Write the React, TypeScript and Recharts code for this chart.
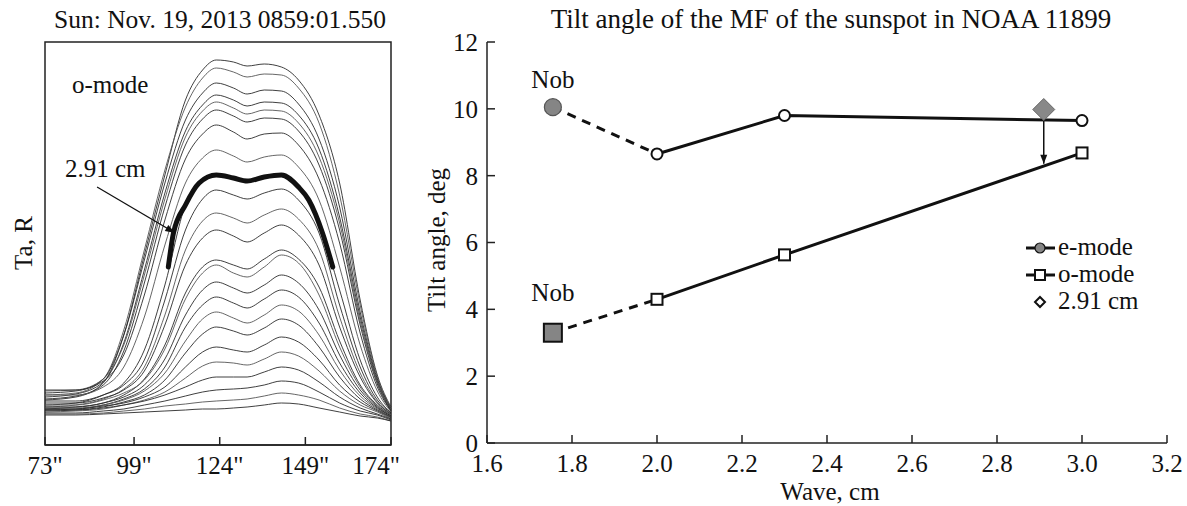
import React from "react";
import {
  LineChart,
  ComposedChart,
  Line,
  Scatter,
  XAxis,
  YAxis,
  ReferenceArea,
} from "recharts";

const FONT = '"Liberation Serif", "Times New Roman", serif';
const INK = "#111";

// ---- left panel: Ta scans (o-mode), arbitrary units ----
const arcsec = [73, 82, 90, 96, 102, 108, 114, 119, 123, 128, 132, 137, 142, 147, 153, 159, 165, 170, 174];
const arcsecTicks = [73, 99, 124, 149, 174];

const prof01 = [45, 48, 62, 110, 190, 270, 345, 375, 385, 383, 379, 381, 378, 365, 330, 262, 145, 70, 38];
const prof02 = [50, 52, 66, 115, 195, 275, 338, 367, 377, 373, 368, 371, 370, 357, 322, 250, 140, 68, 37];
const prof03 = [52, 54, 66, 110, 185, 262, 325, 352, 362, 357, 351, 355, 354, 341, 306, 238, 133, 66, 36];
const prof04 = [48, 51, 63, 102, 175, 252, 314, 340, 350, 345, 339, 343, 342, 330, 296, 228, 128, 64, 35];
const prof05 = [54, 55, 66, 100, 170, 246, 308, 334, 343, 337, 331, 335, 334, 322, 288, 222, 124, 63, 35];
const prof06 = [46, 49, 60, 94, 162, 238, 300, 326, 335, 329, 323, 327, 326, 314, 280, 215, 120, 61, 34];
const prof07 = [55, 55, 64, 90, 150, 225, 286, 311, 320, 313, 306, 311, 312, 300, 266, 202, 112, 58, 34];
const prof08 = [50, 50, 58, 78, 128, 200, 262, 287, 295, 289, 283, 288, 290, 278, 245, 178, 100, 54, 33];
const prof09 = [40, 42, 50, 62, 95, 160, 240, 264, 270, 267, 264, 268, 270, 258, 222, 155, 85, 48, 32];
const prof10 = [44, 44, 50, 60, 85, 145, 215, 246, 255, 250, 246, 252, 256, 245, 212, 140, 78, 45, 32];
const prof11 = [38, 40, 46, 56, 78, 130, 195, 224, 232, 227, 222, 230, 236, 226, 195, 128, 72, 43, 31];
const prof12 = [42, 42, 47, 55, 74, 120, 180, 207, 215, 209, 203, 212, 220, 210, 180, 118, 68, 42, 31];
const prof13 = [36, 38, 42, 50, 66, 100, 152, 178, 185, 180, 176, 186, 195, 186, 158, 104, 60, 40, 30];
const prof14 = [40, 40, 45, 52, 65, 96, 146, 172, 180, 172, 168, 178, 190, 182, 150, 98, 58, 39, 30];
const prof15 = [38, 38, 42, 48, 60, 86, 130, 155, 163, 157, 152, 160, 170, 162, 135, 90, 55, 38, 29];
const prof16 = [35, 36, 40, 46, 56, 78, 118, 140, 148, 142, 137, 146, 155, 148, 122, 82, 52, 37, 29];
const prof17 = [37, 37, 40, 45, 54, 72, 104, 126, 133, 127, 122, 130, 140, 134, 110, 75, 49, 36, 28];
const prof18 = [34, 35, 38, 43, 50, 65, 92, 111, 118, 114, 110, 117, 126, 120, 98, 68, 46, 35, 28];
const prof19 = [36, 36, 39, 42, 48, 58, 78, 93, 98, 95, 93, 100, 108, 103, 85, 60, 43, 34, 27];
const prof20 = [33, 34, 36, 40, 45, 53, 67, 79, 83, 82, 80, 86, 93, 89, 74, 54, 40, 33, 26];
const prof21 = [35, 35, 37, 40, 44, 50, 58, 65, 68, 68, 68, 73, 78, 75, 63, 48, 37, 31, 26];
const prof22 = [32, 32, 34, 36, 40, 44, 49, 53, 55, 56, 57, 60, 64, 62, 53, 42, 34, 30, 25];
const prof23 = [31, 31, 32, 34, 36, 39, 41, 43, 44, 45, 46, 49, 52, 50, 45, 37, 31, 28, 24];
const prof24 = [30, 30, 31, 32, 33, 34, 35, 36, 36, 37, 38, 40, 42, 41, 37, 33, 29, 27, 24];

const profiles = [
  prof01, prof02, prof03, prof04, prof05, prof06, prof07, prof08,
  prof09, prof10, prof11, prof12, prof13, prof14, prof15, prof16,
  prof17, prof18, prof19, prof20, prof21, prof22, prof23, prof24,
];

// highlighted 2.91 cm scan (only the part drawn thick)
const thickArcsec = [109, 110.5, 114, 118, 123, 128, 132, 137, 142, 147, 150, 154, 157];
const thickTa = [178, 212, 240, 262, 270, 267, 264, 268, 270, 258, 245, 212, 178];

// pointer from the "2.91 cm" label
const pointerArcsec = [88.2, 111];
const pointerTa = [258, 212];

// ---- right panel: tilt angle ----
const waveCm = [1.755, 2.0, 2.3, 3.0];
const eModeTilt = [10.05, 8.65, 9.8, 9.65];
const oModeTilt = [3.3, 4.3, 5.63, 8.68];
const wave291 = [2.91];
const tilt291 = [9.98];
const arrowWave = [2.91, 2.91];
const arrowTilt = [9.68, 8.36];
const waveTicks = [1.6, 1.8, 2.0, 2.2, 2.4, 2.6, 2.8, 3.0, 3.2];
const tiltTicks = [0, 2, 4, 6, 8, 10, 12];

const scanRows = arcsec.map((a, i) => {
  const row: Record<string, number> = { a };
  profiles.forEach((p, k) => (row["p" + k] = p[i]));
  return row;
});
const thickRows = thickArcsec.map((a, i) => ({ a, v: thickTa[i] }));
const pointerRows = pointerArcsec.map((a, i) => ({ a, v: pointerTa[i] }));

const pts = (xs: number[], ys: number[]) => xs.map((x, i) => ({ x, y: ys[i] }));
const ePts = pts(waveCm, eModeTilt);
const oPts = pts(waveCm, oModeTilt);
const eNob = ePts.slice(0, 2);
const eSolid = ePts.slice(1);
const oNob = oPts.slice(0, 2);
const oSolid = oPts.slice(1);
const diamondPts = pts(wave291, tilt291);
const arrowPts = pts(arrowWave, arrowTilt);

const tickStyle = { fill: INK, fontSize: 25, fontFamily: FONT };

const nobCircle = (props: any) => {
  const { cx, cy, index } = props;
  if (index !== 0) return <g key={"en" + index} />;
  return (
    <g key={"en" + index}>
      <circle cx={cx} cy={cy} r={8.5} fill="#858585" stroke="#555" strokeWidth={1.2} />
      <text x={cx} y={cy - 19} textAnchor="middle" fontSize={25} fontFamily={FONT} fill={INK}>
        Nob
      </text>
    </g>
  );
};

const nobSquare = (props: any) => {
  const { cx, cy, index } = props;
  if (index !== 0) return <g key={"on" + index} />;
  return (
    <g key={"on" + index}>
      <rect x={cx - 9} y={cy - 9} width={18} height={18} fill="#858585" stroke="#111" strokeWidth={2} />
      <text x={cx} y={cy - 32} textAnchor="middle" fontSize={25} fontFamily={FONT} fill={INK}>
        Nob
      </text>
    </g>
  );
};

const openSquare = (props: any) => {
  const { cx, cy, index } = props;
  return (
    <rect key={"os" + index} x={cx - 5.5} y={cy - 5.5} width={11} height={11} fill="#fff" stroke="#111" strokeWidth={2} />
  );
};

const arrowDown = (props: any) => {
  const { cx, cy, index } = props;
  if (index !== 1) return <g key={"ad" + index} />;
  return <path key={"ad" + index} d={`M${cx - 3.5},${cy - 9} L${cx + 3.5},${cy - 9} L${cx},${cy} Z`} fill="#111" />;
};

const pointerHead = (props: any) => {
  const { cx, cy, index } = props;
  if (index !== 1) return <g key={"ph" + index} />;
  return (
    <path
      key={"ph" + index}
      d="M0,0 L-10,-3.5 L-10,3.5 Z"
      fill="#111"
      transform={`translate(${cx},${cy}) rotate(30.5)`}
    />
  );
};

const diamond = (props: any) => {
  const { cx, cy } = props;
  return (
    <path
      d={`M${cx},${cy - 11} L${cx + 11},${cy} L${cx},${cy + 11} L${cx - 11},${cy} Z`}
      fill="#888"
      stroke="#666"
      strokeWidth={1}
    />
  );
};

function ScanPanel() {
  return (
    <LineChart
      width={400}
      height={506}
      data={scanRows}
      margin={{ top: 42, right: 9, left: 45, bottom: 0 }}
    >
      <XAxis
        dataKey="a"
        type="number"
        domain={[73, 174]}
        ticks={arcsecTicks}
        tickFormatter={(v) => `${v}"`}
        height={61}
        tickSize={-8}
        tickMargin={19}
        tick={tickStyle}
        axisLine={{ stroke: "#222", strokeWidth: 1.5 }}
        tickLine={{ stroke: "#222", strokeWidth: 1.5 }}
      />
      <YAxis hide domain={[0, 403]} />
      <ReferenceArea x1={73} x2={174} y1={0} y2={403} stroke="#222" strokeWidth={1.5} fill="none" fillOpacity={0} />
      {profiles.map((_, k) => (
        <Line
          key={k}
          type="monotone"
          dataKey={"p" + k}
          stroke={k % 3 === 1 ? "#555" : "#2a2a2a"}
          strokeWidth={0.9}
          dot={false}
          activeDot={false}
          isAnimationActive={false}
        />
      ))}
      <Line
        data={thickRows}
        type="monotone"
        dataKey="v"
        stroke="#111"
        strokeWidth={5}
        strokeLinecap="round"
        dot={false}
        activeDot={false}
        isAnimationActive={false}
      />
      <Line
        data={pointerRows}
        type="linear"
        dataKey="v"
        stroke="#111"
        strokeWidth={1.3}
        dot={pointerHead}
        activeDot={false}
        isAnimationActive={false}
      />
    </LineChart>
  );
}

function TiltPanel() {
  return (
    <ComposedChart width={787} height={506} margin={{ top: 42, right: 20, left: 0, bottom: 0 }}>
      <XAxis
        dataKey="x"
        type="number"
        domain={[1.6, 3.2]}
        ticks={waveTicks}
        tickFormatter={(v) => v.toFixed(1)}
        height={63}
        tickSize={-8}
        tickMargin={19}
        tick={tickStyle}
        axisLine={{ stroke: "#222", strokeWidth: 1.5 }}
        tickLine={{ stroke: "#222", strokeWidth: 1.5 }}
        allowDuplicatedCategory={false}
      />
      <YAxis
        type="number"
        domain={[0, 12]}
        ticks={tiltTicks}
        width={87}
        tickSize={-8}
        tickMargin={17}
        tick={tickStyle}
        axisLine={{ stroke: "#222", strokeWidth: 1.5 }}
        tickLine={{ stroke: "#222", strokeWidth: 1.5 }}
      />
      <Line
        data={arrowPts}
        dataKey="y"
        type="linear"
        stroke="#111"
        strokeWidth={1.5}
        dot={arrowDown}
        activeDot={false}
        isAnimationActive={false}
      />
      <Line
        data={eNob}
        dataKey="y"
        type="linear"
        stroke="#111"
        strokeWidth={3}
        strokeDasharray="9 7"
        dot={nobCircle}
        activeDot={false}
        isAnimationActive={false}
      />
      <Line
        data={oNob}
        dataKey="y"
        type="linear"
        stroke="#111"
        strokeWidth={3}
        strokeDasharray="9 7"
        dot={nobSquare}
        activeDot={false}
        isAnimationActive={false}
      />
      <Line
        data={eSolid}
        dataKey="y"
        name="e-mode"
        type="linear"
        stroke="#111"
        strokeWidth={3}
        dot={{ r: 5.5, fill: "#fff", stroke: "#111", strokeWidth: 2 }}
        activeDot={false}
        isAnimationActive={false}
      />
      <Line
        data={oSolid}
        dataKey="y"
        name="o-mode"
        type="linear"
        stroke="#111"
        strokeWidth={3}
        dot={openSquare}
        activeDot={false}
        isAnimationActive={false}
      />
      <Scatter data={diamondPts} dataKey="y" name="2.91 cm" shape={diamond} isAnimationActive={false} />
    </ComposedChart>
  );
}

function Overlay() {
  const t = { fontFamily: FONT, fontSize: 25, fill: INK };
  return (
    <svg
      width={1187}
      height={506}
      style={{ position: "absolute", left: 0, top: 0, pointerEvents: "none" }}
    >
      <text x={220} y={28} textAnchor="middle" {...t} fontSize={25.5}>
        Sun: Nov. 19, 2013 0859:01.550
      </text>
      <text x={831} y={28} textAnchor="middle" {...t} fontSize={27}>
        Tilt angle of the MF of the sunspot in NOAA 11899
      </text>
      <text x={32} y={243} textAnchor="middle" transform="rotate(-90 32 243)" {...t}>
        Ta, R
      </text>
      <text x={445} y={240} textAnchor="middle" transform="rotate(-90 445 240)" {...t}>
        Tilt angle, deg
      </text>
      <text x={830} y={500} textAnchor="middle" {...t}>
        Wave, cm
      </text>
      <text x={72} y={93} {...t}>
        o-mode
      </text>
      <text x={65} y={177} {...t}>
        2.91 cm
      </text>

      {/* legend */}
      <line x1={1026} x2={1055} y1={248} y2={248} stroke="#111" strokeWidth={3} />
      <circle cx={1040} cy={248} r={5} fill="#858585" stroke="#111" strokeWidth={1.2} />
      <text x={1058} y={255} {...t}>e-mode</text>
      <line x1={1026} x2={1055} y1={275} y2={275} stroke="#111" strokeWidth={3} />
      <rect x={1035} y={270} width={10} height={10} fill="#fff" stroke="#111" strokeWidth={2} />
      <text x={1058} y={282} {...t}>o-mode</text>
      <path d="M1040,297 L1045,302 L1040,307 L1035,302 Z" fill="#fff" stroke="#111" strokeWidth={2} />
      <text x={1058} y={309} {...t}>2.91 cm</text>
    </svg>
  );
}

export default function App() {
  return (
    <div
      style={{
        position: "fixed",
        left: 0,
        top: 0,
        width: 1187,
        height: 506,
        background: "#fff",
        fontFamily: FONT,
      }}
    >
      <div style={{ position: "absolute", left: 0, top: 0 }}>
        <ScanPanel />
      </div>
      <div style={{ position: "absolute", left: 400, top: 0 }}>
        <TiltPanel />
      </div>
      <Overlay />
    </div>
  );
}
